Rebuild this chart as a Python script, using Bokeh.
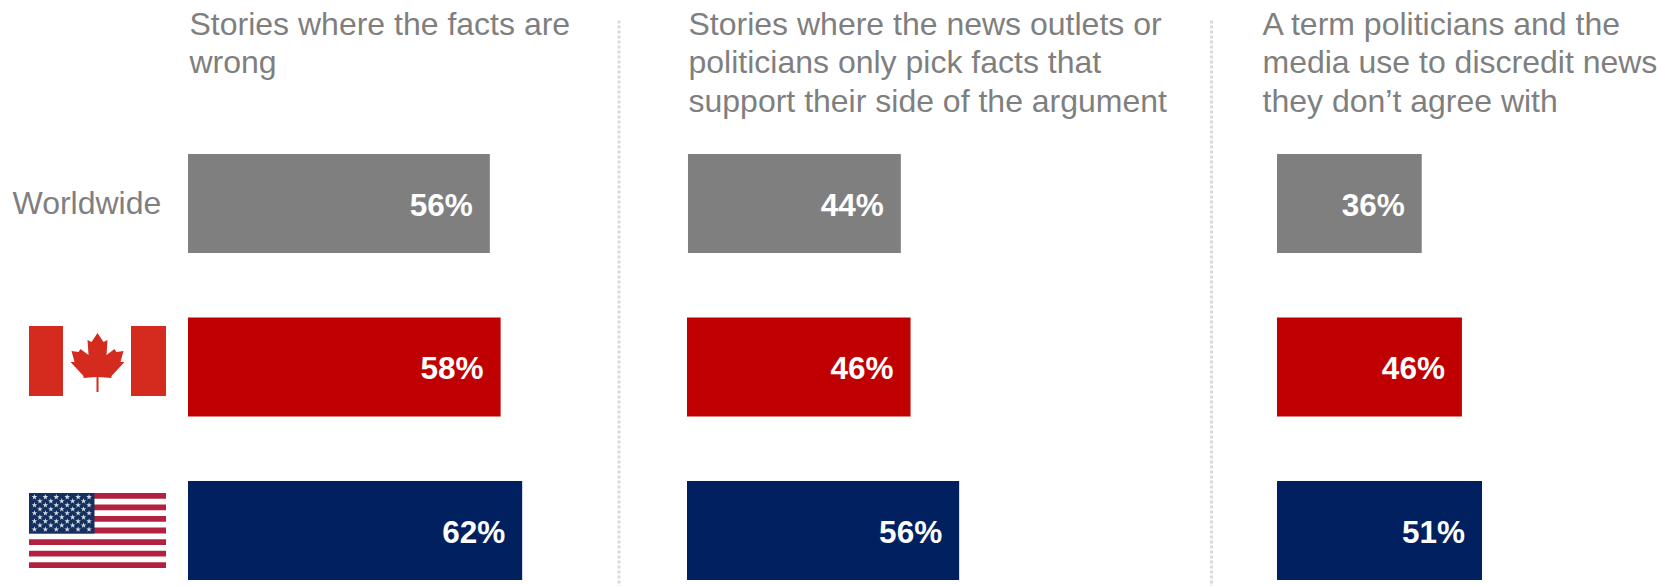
from bokeh.embed import file_html
from bokeh.core.properties import value
from bokeh.models import ColumnDataSource, Range1d
from bokeh.plotting import figure
from bokeh.resources import INLINE

# Survey results, percent of respondents per region
regions = ["Worldwide", "Canada", "United States"]
facts_wrong = [56, 58, 62]
selective_facts = [44, 46, 56]
discredit_term = [36, 46, 51]

bar_colors = ["#7F7F7F", "#C00000", "#002060"]
headers = [
    ["Stories where the facts are", "wrong"],
    ["Stories where the news outlets or", "politicians only pick facts that", "support their side of the argument"],
    ["A term politicians and the", "media use to discredit news", "they don\u2019t agree with"],
]

W, H = 1661, 586
FONT = "Liberation Sans"
GREY = "#7F7F7F"

p = figure(width=W, height=H, output_backend="svg", toolbar_location=None,
           x_range=Range1d(0, W), y_range=Range1d(H, 0), min_border=0,
           outline_line_color=None, background_fill_color="white")
p.axis.visible = False
p.grid.visible = False

# Every panel has its own percent scale:
# (panel name, pixel at 0%, pixels per percent, values, header x, bar starts)
panels = [("facts", 187.5, 5.39, facts_wrong, 189, [0, 0, 0]),
          ("selective", 686.5, 4.86, selective_facts, 688, [0.2, 0, 0]),
          ("term", 1276.5, 4.02, discredit_term, 1262, [0, 0, 0])]
for name, origin, ppu, *_ in panels:
    p.extra_x_ranges[name] = Range1d(-origin / ppu, (W - origin) / ppu)

# Rows share one index scale, with row 0 centred at y=203 and rows 163.5 px apart
ROW_TOP, ROW_STEP = 203.0, 163.5
p.extra_y_ranges["rows"] = Range1d((H - ROW_TOP) / ROW_STEP, -ROW_TOP / ROW_STEP)
rows = list(range(len(regions)))

for (name, origin, ppu, vals, head_x, starts), head in zip(panels, headers):
    src = ColumnDataSource(dict(row=rows, v=vals, start=starts, color=bar_colors,
                                label=[f"{v}%" for v in vals]))
    p.hbar(y="row", left="start", right="v", height=99 / ROW_STEP, fill_color="color",
           line_color=None, source=src, x_range_name=name, y_range_name="rows")
    p.text(x="v", y="row", text="label", source=src, x_range_name=name, y_range_name="rows",
           text_color="white", text_font=value(FONT), text_font_style="bold",
           text_font_size="31.5px", text_align="right", text_baseline="middle",
           x_offset=-17, y_offset=1)
    for i, line in enumerate(head):
        p.text(x=[head_x], y=[23 + 38.5 * i], text=[line], text_color=GREY,
               text_font=value(FONT), text_font_size="32px",
               text_align="left", text_baseline="middle")

# Region label for the first row
p.text(x=[12], y=[202], text=[regions[0]], text_color=GREY, text_font=value(FONT),
       text_font_size="32px", text_align="left", text_baseline="middle")

# Dotted panel separators
for x in (618.5, 1211):
    p.line(x=[x, x], y=[20, H], line_color="#DADADA", line_width=3, line_dash="3 2")

# Canadian flag
CA_RED = "#D52B1E"
p.quad(left=[28.5, 130.5], right=[62.5, 165.5], top=[325.5, 325.5], bottom=[395.5, 395.5],
       fill_color=CA_RED, line_color=None)
cx, cy = 97.0, 360.5
half_x = [0, 6, 10, 9, 17, 19, 26, 23, 27, 14, 14, 1, 1]
half_y = [-28, -19, -21, -6, -12, -9, -10, 1, 1, 15, 17, 16, 31]
leaf_x = half_x + [-a for a in reversed(half_x[1:])]
leaf_y = half_y + list(reversed(half_y[1:]))
p.patch([cx + a for a in leaf_x], [cy + b for b in leaf_y], fill_color=CA_RED, line_color=None)

# United States flag: thirteen stripes, canton and stars
US_RED, US_BLUE = "#B22240", "#14305F"
fx0, fx1, fy0, fy1 = 28.5, 165.5, 492.5, 567.5
sh = (fy1 - fy0) / 13
stripe_idx = list(range(0, 13, 2))
p.quad(left=[fx0] * 7, right=[fx1] * 7, top=[fy0 + i * sh for i in stripe_idx],
       bottom=[fy0 + (i + 1) * sh for i in stripe_idx], fill_color=US_RED, line_color=None)
cw, ch = 65.5, 7 * sh
p.quad(left=[fx0], right=[fx0 + cw], top=[fy0], bottom=[fy0 + ch],
       fill_color=US_BLUE, line_color=None)
sx, sy = [], []
for r in range(9):
    n = 6 if r % 2 == 0 else 5
    for c in range(n):
        sx.append(fx0 + cw * (c + (0.5 if r % 2 == 0 else 1.0)) / 6)
        sy.append(fy0 + ch * (r + 1) / 10)
p.scatter(sx, sy, marker="star", size=6, fill_color="#D5DCE8", line_color=None)

open("out.html", "w").write(file_html(p, INLINE))
